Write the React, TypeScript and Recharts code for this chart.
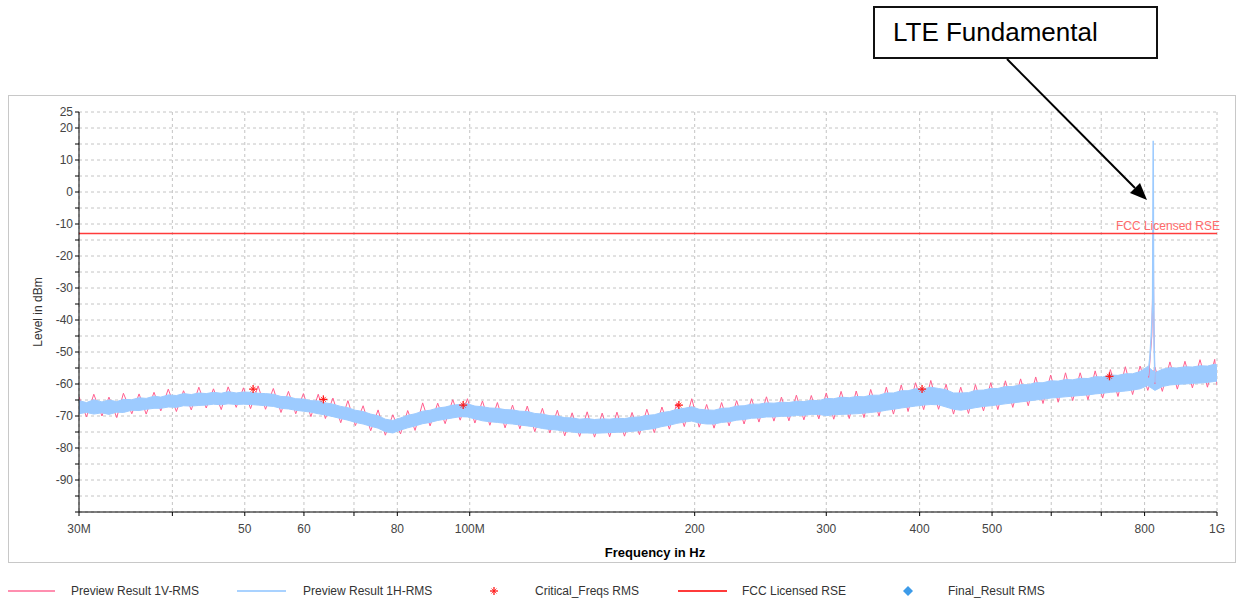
import React from "react";
import {
  ComposedChart,
  Line,
  Area,
  Scatter,
  XAxis,
  YAxis,
  CartesianGrid,
  ReferenceLine,
} from "recharts";

// frequency grid of the preview scans, MHz
const freqs = [
  30, 30.7, 31.4, 32.2, 32.9, 33.7, 34.4, 35.3, 36.1, 36.9,
  37.8, 38.6, 39.5, 40.5, 41.4, 42.4, 43.4, 44.4, 45.4, 46.5,
  47.5, 48.7, 49.8, 50.9, 52.1, 53.3, 54.6, 55.9, 57.2, 58.5,
  59.9, 61.3, 62.7, 64.1, 65.6, 67.2, 68.7, 70.3, 72.0, 73.7,
  75.4, 77.1, 78.9, 80.8, 82.6, 84.5, 86.5, 88.5, 90.6, 92.7,
  94.9, 97.1, 99.3, 101.6, 104.0, 106.4, 108.9, 111.5, 114.1, 116.7,
  119.4, 122.2, 125.1, 128.0, 131.0, 134.0, 137.1, 140.3, 143.6, 146.9,
  150.4, 153.9, 157.4, 161.1, 164.9, 168.7, 172.6, 176.6, 180.8, 185.0,
  189.3, 193.7, 198.2, 202.8, 207.5, 212.3, 217.3, 222.4, 227.6, 232.9,
  238.3, 243.8, 249.5, 255.3, 261.3, 267.4, 273.6, 280.0, 286.5, 293.2,
  300, 307, 314, 322, 329, 337, 344, 353, 361, 369,
  378, 386, 395, 405, 414, 424, 434, 444, 454, 465,
  475, 487, 498, 509, 521, 533, 546, 559, 572, 585,
  599, 613, 627, 641, 656, 672, 687, 703, 720, 737,
  754, 771, 789, 808, 826, 845, 865, 885, 906, 927,
  949, 971, 993, 1000,
];

// Preview Result 1H-RMS: upper / lower edge of the noise band, dBm
const hHigh = [
  -65.2, -65.8, -64.9, -65.6, -65.0, -65.5, -64.8, -64.9, -64.3, -64.5,
  -63.8, -64.1, -63.4, -63.6, -63.0, -63.3, -62.8, -63.0, -62.6, -62.9,
  -62.4, -62.8, -62.5, -62.6, -62.9, -63.0, -63.2, -63.9, -64.0, -64.6,
  -64.7, -65.2, -65.3, -65.9, -66.3, -67.0, -67.4, -68.2, -68.6, -69.4,
  -69.9, -71.0, -71.4, -70.6, -69.8, -69.3, -68.5, -68.2, -67.5, -67.2,
  -66.6, -66.4, -66.2, -66.9, -67.1, -67.5, -67.6, -68.0, -68.1, -68.5,
  -68.6, -69.2, -69.4, -69.9, -70.0, -70.5, -70.6, -71.0, -70.8, -71.1,
  -70.9, -71.0, -70.7, -70.8, -70.4, -70.3, -69.8, -69.6, -68.9, -68.6,
  -67.9, -67.6, -67.1, -67.9, -68.1, -68.2, -67.6, -67.5, -66.9, -66.8,
  -66.3, -66.3, -65.9, -66.0, -65.7, -65.8, -65.4, -65.5, -65.1, -65.2,
  -64.5, -64.6, -64.1, -64.3, -63.9, -64.0, -63.5, -63.5, -62.8, -62.8,
  -62.1, -62.1, -61.5, -61.5, -61.0, -61.4, -61.8, -62.8, -62.8, -62.7,
  -62.0, -61.9, -61.4, -61.4, -60.8, -60.8, -60.2, -60.2, -59.6, -59.6,
  -59.0, -59.1, -58.6, -58.7, -58.2, -58.3, -57.7, -57.8, -57.2, -57.3,
  -56.8, -56.8, -56.1, -54.5, -56.5, -55.4, -54.9, -55.0, -54.6, -54.7,
  -54.3, -54.4, -53.8, -54.0,
];
const hLow = [
  -69.3, -68.9, -69.4, -69.0, -69.5, -68.8, -68.9, -68.2, -68.3, -67.9,
  -67.6, -67.6, -67.2, -67.3, -66.8, -66.9, -66.7, -66.6, -66.3, -66.5,
  -66.2, -66.4, -66.3, -66.4, -66.6, -66.8, -67.0, -67.6, -67.8, -68.2,
  -68.5, -68.8, -69.3, -69.7, -70.2, -70.8, -71.3, -72.0, -72.5, -73.2,
  -73.8, -74.9, -75.3, -74.4, -73.7, -73.1, -72.4, -72.0, -71.4, -71.0,
  -70.6, -70.2, -70.3, -70.9, -71.5, -71.8, -72.0, -72.3, -72.5, -72.8,
  -73.1, -73.4, -73.9, -74.2, -74.4, -74.8, -75.0, -75.3, -75.3, -75.4,
  -75.3, -75.2, -75.1, -75.0, -74.8, -74.6, -74.2, -73.9, -73.3, -72.9,
  -72.3, -71.9, -71.6, -72.2, -72.5, -72.5, -72.0, -71.8, -71.3, -71.1,
  -70.7, -70.6, -70.3, -70.3, -70.1, -70.1, -69.8, -69.8, -69.5, -69.5,
  -69.9, -69.6, -69.5, -69.4, -69.3, -69.1, -68.9, -68.6, -68.2, -67.9,
  -67.5, -67.2, -66.9, -66.6, -66.4, -66.5, -67.2, -67.9, -68.2, -67.8,
  -67.4, -67.0, -66.8, -66.5, -66.2, -65.9, -65.6, -65.3, -65.0, -64.7,
  -64.4, -64.2, -64.0, -63.8, -63.6, -63.4, -63.1, -62.9, -62.6, -62.4,
  -62.2, -61.9, -61.5, -60.5, -62.0, -60.8, -60.3, -60.1, -60.0, -59.8,
  -59.7, -59.5, -59.2, -59.1,
];

// Preview Result 1V-RMS, dBm
const vLevel = [
  -64.0, -70.3, -63.2, -70.0, -64.1, -70.5, -62.9, -69.3, -63.1, -69.4,
  -62.6, -68.4, -61.6, -68.6, -62.1, -68.1, -61.0, -67.5, -61.5, -68.0,
  -60.9, -67.3, -61.2, -67.7, -60.6, -67.9, -61.4, -68.9, -62.3, -69.3,
  -63.0, -70.2, -63.2, -70.8, -64.4, -72.1, -65.2, -73.0, -66.8, -74.6,
  -68.1, -76.0, -69.6, -75.6, -68.3, -74.5, -65.9, -73.1, -66.0, -72.4,
  -64.9, -71.3, -64.6, -72.2, -65.3, -72.9, -65.8, -73.7, -66.6, -74.0,
  -66.9, -74.9, -67.6, -75.3, -68.2, -76.2, -69.0, -76.4, -68.7, -76.6,
  -69.1, -76.5, -68.8, -76.3, -68.9, -75.8, -67.9, -75.2, -67.2, -74.1,
  -66.1, -73.3, -64.6, -73.5, -66.4, -73.8, -65.8, -73.1, -65.2, -72.5,
  -64.6, -71.9, -64.0, -71.6, -64.1, -71.5, -63.5, -71.2, -63.6, -70.9,
  -62.8, -71.0, -62.3, -70.8, -62.2, -70.5, -61.7, -70.0, -61.0, -69.4,
  -60.3, -68.6, -59.6, -68.0, -58.9, -67.9, -60.1, -69.4, -61.0, -69.2,
  -60.2, -68.4, -59.6, -68.0, -59.0, -67.3, -58.4, -66.8, -57.8, -66.1,
  -57.2, -65.7, -56.5, -65.2, -56.5, -64.9, -55.9, -64.4, -55.5, -63.9,
  -54.6, -63.3, -54.4, -62.0, -54.8, -62.3, -53.1, -61.6, -52.9, -61.2,
  -52.4, -61.0, -52.3, -60.4,
];

// LTE fundamental around 822 MHz
const hSpikeFreqs = [808, 813, 817, 820, 821.5, 822.5, 824, 826];
const hSpikeLevel = [-57.5, -52, -44, -35, 16, -30, -48, -59.5];
const vSpikeFreqs = [810, 818, 821, 822, 823, 826];
const vSpikeLevel = [-58, -45, -25, -14, -40, -60];

// Critical_Freqs RMS
const critFreqs = [51.3, 63.7, 98, 190.5, 403, 718];
const critLevel = [-61.6, -64.8, -66.6, -66.6, -61.6, -57.6];

const fccLimit = -13;

const xTicks = [30, 40, 50, 60, 70, 80, 100, 200, 300, 400, 500, 600, 700, 800, 1000];
const xTickText: Record<number, string> = {
  30: "30M", 50: "50", 60: "60", 80: "80", 100: "100M", 200: "200",
  300: "300", 400: "400", 500: "500", 800: "800", 1000: "1G",
};
const yTicks = [
  -100, -95, -90, -85, -80, -75, -70, -65, -60, -55, -50, -45, -40, -35,
  -30, -25, -20, -15, -10, -5, 0, 5, 10, 15, 20, 25,
];

const PINK = "#ff5f8f";
const BLUE = "#9dcbff";
const FONT = "'Liberation Sans', Arial, sans-serif";

const bandData = freqs.map((f, i) => ({ f, range: [hLow[i], hHigh[i]] }));
const vData = freqs.map((f, i) => ({ f, v: vLevel[i] }));
const hSpike = hSpikeFreqs.map((f, i) => ({ f, v: hSpikeLevel[i] }));
const vSpike = vSpikeFreqs.map((f, i) => ({ f, v: vSpikeLevel[i] }));
const critData = critFreqs.map((f, i) => ({ f, v: critLevel[i] }));

const Star = (props: any) => {
  const { cx, cy } = props;
  if (cx == null || cy == null) return null;
  return (
    <g stroke="#ff1a1a" strokeWidth={1.3}>
      <line x1={cx - 4} y1={cy} x2={cx + 4} y2={cy} />
      <line x1={cx} y1={cy - 4} x2={cx} y2={cy + 4} />
      <line x1={cx - 2.5} y1={cy - 2.5} x2={cx + 2.5} y2={cy + 2.5} strokeWidth={0.8} />
      <line x1={cx - 2.5} y1={cy + 2.5} x2={cx + 2.5} y2={cy - 2.5} strokeWidth={0.8} />
    </g>
  );
};

const FccLabel = (props: any) => {
  const vb = props.viewBox;
  if (!vb) return null;
  return (
    <text
      x={vb.x + vb.width + 3}
      y={vb.y - 4}
      textAnchor="end"
      fill="#ff6b6b"
      fontSize={12}
      fontFamily={FONT}
    >
      FCC Licensed RSE
    </text>
  );
};

const legendText: React.CSSProperties = {
  position: "absolute",
  top: 584,
  fontSize: 12,
  color: "#333",
  fontFamily: FONT,
  whiteSpace: "nowrap",
};

export default function App() {
  return (
    <div
      style={{
        position: "absolute",
        left: 0,
        top: 0,
        width: 1236,
        height: 601,
        background: "#fff",
        fontFamily: FONT,
        overflow: "hidden",
      }}
    >
      <div
        style={{
          position: "absolute",
          left: 8,
          top: 95,
          width: 1226,
          height: 466,
          border: "1px solid #c8c8c8",
        }}
      />
      <div style={{ position: "absolute", left: 0, top: 0 }}>
        <ComposedChart
          width={1236}
          height={601}
          margin={{ top: 112, right: 19, bottom: 59, left: 29 }}
        >
          <CartesianGrid stroke="#c4c4c4" strokeDasharray="3 3" />
          <XAxis
            dataKey="f"
            type="number"
            scale="log"
            domain={[30, 1000]}
            allowDataOverflow
            ticks={xTicks}
            interval={0}
            tickFormatter={(v: number) => xTickText[v] ?? ""}
            height={30}
            tickSize={4}
            tickMargin={8}
            stroke="#000"
            tick={{ fill: "#444", fontSize: 12, fontFamily: FONT }}
          />
          <YAxis
            type="number"
            domain={[-100, 25]}
            allowDataOverflow
            ticks={yTicks}
            interval={0}
            tickFormatter={(v: number) =>
              v === 25 || (v % 10 === 0 && v > -100) ? String(v) : ""
            }
            width={50}
            tickSize={4}
            stroke="#000"
            tick={{ fill: "#444", fontSize: 12, fontFamily: FONT }}
          />
          {/* 1V trace as an unfilled area so it stays under the 1H band */}
          <Area
            data={vData}
            dataKey="v"
            type="linear"
            stroke={PINK}
            strokeWidth={1}
            fill="none"
            fillOpacity={0}
            isAnimationActive={false}
          />
          <Area
            data={bandData}
            dataKey="range"
            type="linear"
            stroke={BLUE}
            strokeWidth={1}
            fill={BLUE}
            fillOpacity={1}
            isAnimationActive={false}
          />
          <Line
            data={vSpike}
            dataKey="v"
            type="linear"
            stroke={PINK}
            strokeWidth={1}
            dot={false}
            isAnimationActive={false}
          />
          <Line
            data={hSpike}
            dataKey="v"
            type="linear"
            stroke={BLUE}
            strokeWidth={1.5}
            dot={false}
            isAnimationActive={false}
          />
          <ReferenceLine
            y={fccLimit}
            stroke="#ff3b3b"
            strokeWidth={1.5}
            label={<FccLabel />}
          />
          <Scatter
            data={critData}
            dataKey="v"
            shape={<Star />}
            isAnimationActive={false}
          />
        </ComposedChart>
      </div>

      {/* axis titles */}
      <div
        style={{
          position: "absolute",
          left: 38,
          top: 312,
          transform: "translate(-50%, -50%) rotate(-90deg)",
          fontSize: 12,
          color: "#333",
          whiteSpace: "nowrap",
        }}
      >
        Level in dBm
      </div>
      <div
        style={{
          position: "absolute",
          left: 655,
          top: 545,
          transform: "translateX(-50%)",
          fontSize: 13,
          fontWeight: "bold",
          color: "#000",
          whiteSpace: "nowrap",
        }}
      >
        Frequency in Hz
      </div>

      {/* annotation */}
      <div
        style={{
          position: "absolute",
          left: 873,
          top: 6,
          width: 263,
          height: 49,
          border: "2px solid #111",
          background: "#fff",
          fontSize: 26,
          lineHeight: "49px",
          paddingLeft: 18,
          boxSizing: "content-box",
          color: "#000",
          whiteSpace: "nowrap",
        }}
      >
        LTE Fundamental
      </div>
      <svg
        width={1236}
        height={601}
        style={{ position: "absolute", left: 0, top: 0, pointerEvents: "none" }}
      >
        <line x1={1007} y1={59} x2={1135} y2={188} stroke="#000" strokeWidth={2} />
        <polygon points="1147,200 1130,193 1140,183" fill="#000" />
      </svg>

      {/* legend */}
      <div style={{ position: "absolute", left: 8, top: 590, width: 47, height: 1.5, background: "#ff8fb0" }} />
      <div style={{ ...legendText, left: 71 }}>Preview Result 1V-RMS</div>
      <div style={{ position: "absolute", left: 237, top: 590, width: 49, height: 1.5, background: "#a9d2ff" }} />
      <div style={{ ...legendText, left: 303 }}>Preview Result 1H-RMS</div>
      <svg width={12} height={12} style={{ position: "absolute", left: 488, top: 585 }}>
        <Star cx={6} cy={6} />
      </svg>
      <div style={{ ...legendText, left: 535 }}>Critical_Freqs RMS</div>
      <div style={{ position: "absolute", left: 678, top: 590, width: 49, height: 1.5, background: "#ff3b3b" }} />
      <div style={{ ...legendText, left: 742 }}>FCC Licensed RSE</div>
      <svg width={12} height={12} style={{ position: "absolute", left: 902, top: 585 }}>
        <polygon points="6,1 11,6 6,11 1,6" fill="#3d9be9" />
      </svg>
      <div style={{ ...legendText, left: 948 }}>Final_Result RMS</div>
    </div>
  );
}
